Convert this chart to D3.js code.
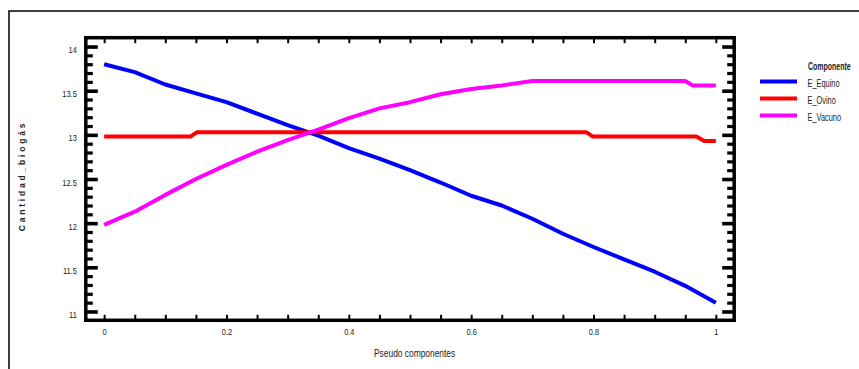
<!DOCTYPE html>
<html>
<head>
<meta charset="utf-8">
<script src="https://cdn.jsdelivr.net/npm/d3@7"></script>
<style>
  html, body { margin: 0; padding: 0; background: #fff; }
  svg { display: block; }
  text { font-family: "Liberation Sans", Arial, sans-serif; }
</style>
</head>
<body>
<svg id="chart" width="859" height="369"></svg>
<script>
// ---- data ----
const seriesNames = ["E_Equino", "E_Ovino", "E_Vacuno"];
const seriesColors = ["#0000ff", "#ff0000", "#ff00ff"];

const equinoX = [0, 0.05, 0.10, 0.15, 0.20, 0.25, 0.30, 0.35, 0.40, 0.45, 0.50,
                 0.55, 0.60, 0.65, 0.70, 0.75, 0.80, 0.85, 0.90, 0.95, 1.00];
const equinoY = [13.80, 13.71, 13.57, 13.47, 13.37, 13.24, 13.11, 12.99, 12.85, 12.73, 12.60,
                 12.46, 12.31, 12.20, 12.05, 11.88, 11.73, 11.59, 11.45, 11.29, 11.10];

const ovinoX = [0, 0.141, 0.152, 0.788, 0.799, 0.968, 0.981, 1.00];
const ovinoY = [12.98, 12.98, 13.03, 13.03, 12.98, 12.98, 12.93, 12.93];

const vacunoX = [0, 0.05, 0.10, 0.15, 0.20, 0.25, 0.30, 0.35, 0.40, 0.45, 0.50,
                 0.55, 0.60, 0.65, 0.70, 0.95, 0.962, 1.00];
const vacunoY = [11.98, 12.13, 12.32, 12.50, 12.66, 12.81, 12.94, 13.06, 13.19, 13.30, 13.37,
                 13.46, 13.52, 13.56, 13.61, 13.61, 13.56, 13.56];

const xTickLabels = ["0", "0.2", "0.4", "0.6", "0.8", "1"];
const yTickLabels = ["11", "11.5", "12", "12.5", "13", "13.5", "14"];
const xTitle = "Pseudo componentes";
const yTitle = "Cantidad_biogás";
const legendTitle = "Componente";

// ---- chart ----
const svg = d3.select("#chart");
const NARROW = 0.76;

const plot = { left: 85.8, right: 734.2, top: 37.7, bottom: 320.3 };
const x = d3.scaleLinear().domain([-0.03, 1.03]).range([plot.left, plot.right]);
const y = d3.scaleLinear().domain([10.9, 14.1]).range([plot.bottom, plot.top]);

// outer frame (left + top)
svg.append("path")
  .attr("d", `M9,369 L9,11 L859,11`)
  .attr("fill", "none").attr("stroke", "#000").attr("stroke-width", 1.5);

const xMinor = d3.range(0, 21).map(i => i * 0.05);
const xMajor = xTickLabels.map(Number);
const yMinor = d3.range(0, 31).map(i => 11 + i * 0.1).filter(v => Math.abs((v * 2) - Math.round(v * 2)) > 1e-6);
const yMajor = yTickLabels.map(Number);

function styleAxis(g, width) {
  g.select(".domain").remove();
  g.selectAll(".tick line").attr("stroke", "#000").attr("stroke-width", width);
}

// bottom axis
const gB = svg.append("g").attr("transform", `translate(0,${plot.bottom})`)
  .call(d3.axisBottom(x).tickValues(xMinor).tickSize(-5.5).tickPadding(8)
    .tickFormat(d => {
      const i = xMajor.findIndex(m => Math.abs(m - d) < 1e-6);
      return i >= 0 ? xTickLabels[i] : "";
    }));
styleAxis(gB, 2);
gB.selectAll("text")
  .attr("y", 0)
  .attr("transform", `translate(0,8) scale(${NARROW},1)`)
  .attr("font-size", 9.8).attr("fill", "#222");

// top axis
const gT = svg.append("g").attr("transform", `translate(0,${plot.top})`)
  .call(d3.axisTop(x).tickValues(xMinor).tickSize(-5.5).tickFormat(""));
styleAxis(gT, 2);

// left axis minor + major
const gLm = svg.append("g").attr("transform", `translate(${plot.left},0)`)
  .call(d3.axisLeft(y).tickValues(yMinor).tickSize(-7).tickFormat(""));
styleAxis(gLm, 3.2);
const gL = svg.append("g").attr("transform", `translate(${plot.left},0)`)
  .call(d3.axisLeft(y).tickValues(yMajor).tickSize(-12).tickPadding(9)
    .tickFormat((d, i) => yTickLabels[i]));
styleAxis(gL, 3.6);
gL.selectAll("text")
  .attr("x", 0)
  .attr("transform", `translate(-9,3) scale(${NARROW},1)`)
  .attr("font-size", 9.8).attr("fill", "#222");

// right axis minor + major
const gRm = svg.append("g").attr("transform", `translate(${plot.right},0)`)
  .call(d3.axisRight(y).tickValues(yMinor).tickSize(-7).tickFormat(""));
styleAxis(gRm, 3.2);
const gR = svg.append("g").attr("transform", `translate(${plot.right},0)`)
  .call(d3.axisRight(y).tickValues(yMajor).tickSize(-12).tickFormat(""));
styleAxis(gR, 3.6);

// plot frame
svg.append("rect")
  .attr("x", plot.left).attr("y", plot.top)
  .attr("width", plot.right - plot.left).attr("height", plot.bottom - plot.top)
  .attr("fill", "none").attr("stroke", "#000").attr("stroke-width", 3.5);

// series lines
const series = [
  { name: seriesNames[0], xs: equinoX, ys: equinoY, color: seriesColors[0] },
  { name: seriesNames[1], xs: ovinoX, ys: ovinoY, color: seriesColors[1] },
  { name: seriesNames[2], xs: vacunoX, ys: vacunoY, color: seriesColors[2] }
];
const line = d3.line().x(d => x(d[0])).y(d => y(d[1]));
series.forEach(s => {
  svg.append("path")
    .datum(s.xs.map((v, i) => [v, s.ys[i]]))
    .attr("d", line)
    .attr("fill", "none")
    .attr("stroke", s.color)
    .attr("stroke-width", 4)
    .attr("stroke-linejoin", "round");
});

// axis titles
svg.append("text")
  .attr("transform", "translate(374,357) scale(0.8,1)")
  .attr("font-size", 10.5).attr("fill", "#222")
  .text(xTitle);

svg.append("text")
  .attr("transform", "translate(25,176) rotate(-90)")
  .attr("text-anchor", "middle")
  .attr("font-weight", "bold").attr("font-size", 8.5)
  .attr("letter-spacing", 2.8)
  .attr("fill", "#222").text(yTitle);

// legend
svg.append("text")
  .attr("transform", "translate(808,70) scale(0.7,1)")
  .attr("font-size", 10).attr("font-weight", "bold")
  .attr("fill", "#222").text(legendTitle);
series.forEach((s, i) => {
  const by = 86.5 + i * 17;
  svg.append("line")
    .attr("x1", 760).attr("x2", 797).attr("y1", by - 5).attr("y2", by - 5)
    .attr("stroke", s.color).attr("stroke-width", 4);
  svg.append("text")
    .attr("transform", `translate(807.5,${by}) scale(0.74,1)`)
    .attr("font-size", 10).attr("fill", "#222")
    .text(s.name);
});
</script>
</body>
</html>
